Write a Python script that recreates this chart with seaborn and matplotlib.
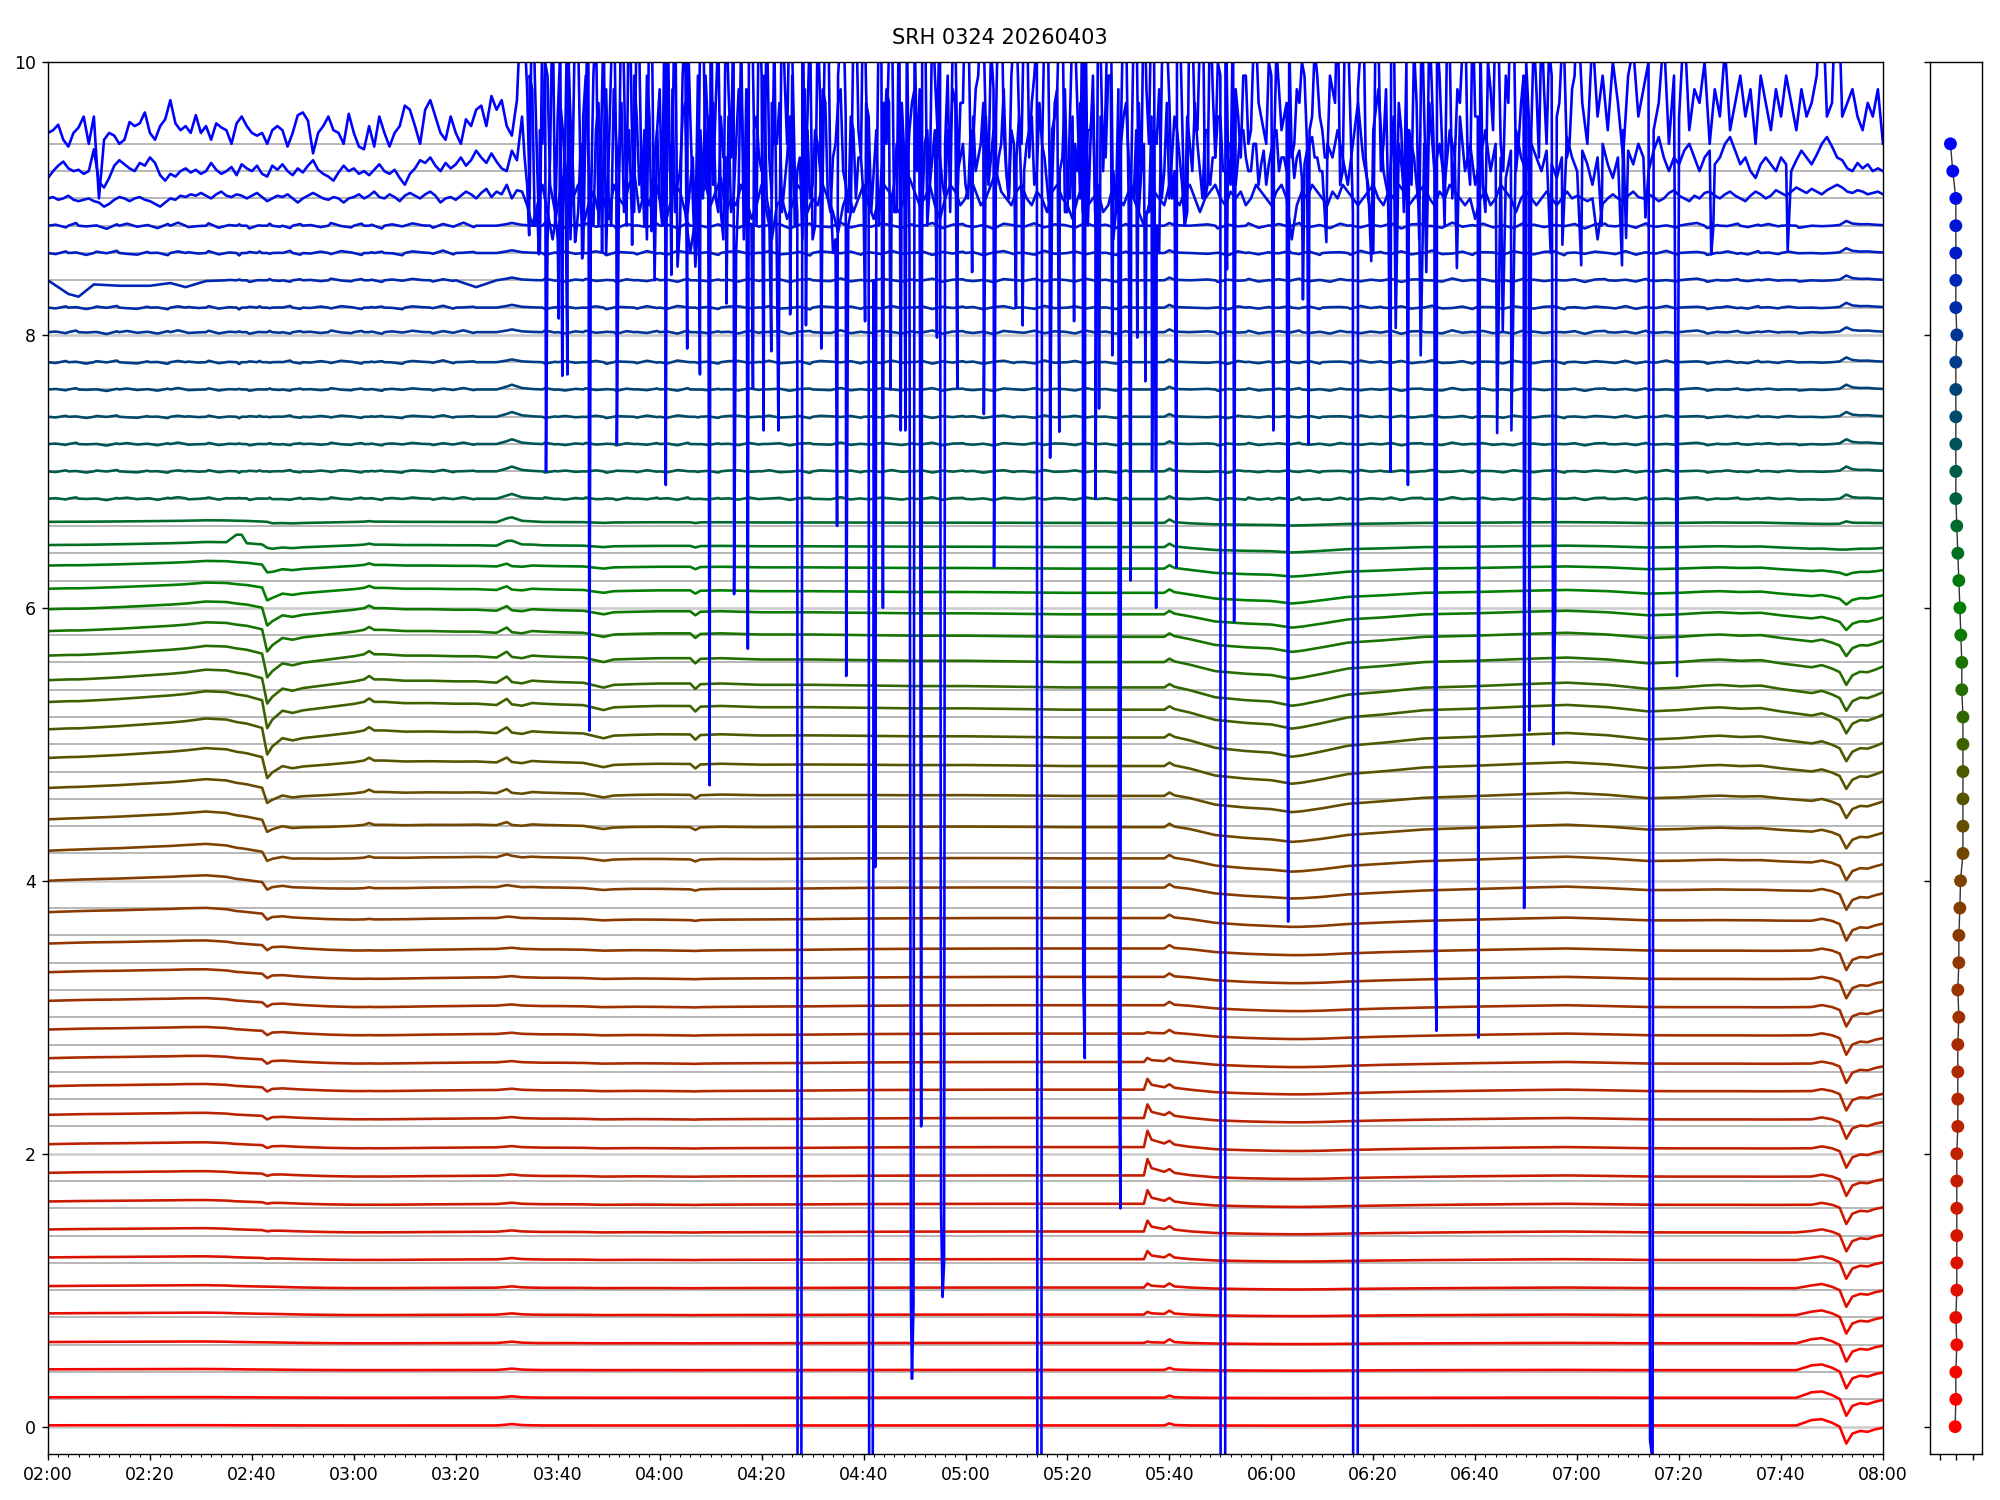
import numpy as np
import pandas as pd
import matplotlib
matplotlib.use('Agg')
import matplotlib.pyplot as plt
import matplotlib.dates as mdates
from matplotlib.colors import LinearSegmentedColormap
import seaborn as sns

title = 'SRH 0324 20260403'
start = pd.Timestamp('2026-04-03 02:00')
n_ch = 48

# knot times (minutes after 02:00) used by the quiet channels 0..44
knots = [0, 4, 6, 9, 14, 20, 24, 27, 31, 35,
         37, 38, 39, 41, 42, 43, 44, 46, 48, 50,
         55, 60, 62, 63, 64, 66, 70, 75, 80, 84,
         88, 90, 91, 93, 95, 97, 100, 105, 109, 111,
         115, 120, 126, 127, 128, 132, 140, 150, 160, 170,
         180, 190, 200, 206, 212, 215, 215.7, 216.5, 219, 220,
         221, 224, 229, 235, 240, 244, 246, 250, 255, 262,
         270, 280, 290, 298, 306, 314, 320, 325, 328, 332,
         336, 340, 343, 346, 348, 350, 351.5, 352.8, 354, 355.5,
         357, 358.5, 360]

# slow drift of the red channels
slow_red = [0, .004, .006, .008, .01, .014, .016, .019, .02, .012,
            .002, 0, -.003, -.008, -.01, -.012, -.014, -.02, -.026, -.031,
            -.04, -.045, -.045, -.044, -.045, -.045, -.043, -.04, -.038, -.036,
            -.035, -.035, -.036, -.037, -.037, -.038, -.038, -.04, -.046, -.045,
            -.043, -.044, -.047, -.048, -.046, -.044, -.042, -.04, -.036, -.034,
            -.033, -.032, -.032, -.032, -.032, -.032, -.032, -.032, -.032, -.032,
            -.033, -.036, -.055, -.066, -.072, -.075, -.075, -.072, -.064, -.056,
            -.049, -.042, -.036, -.032, -.038, -.045, -.046, -.046, -.046, -.046,
            -.047, -.047, -.046, -.045, -.045, -.045, -.046, -.048, -.05, -.05,
            -.05, -.05, -.05]

# slow drift of the olive / green channels
slow_olive = [0, .005, .005, .01, .02, .035, .045, .055, .075, .07,
              .055, .05, .045, .025, .015, 0, -.07, -.06, -.075, -.055,
              -.03, -.005, .01, .035, .01, .01, 0, 0, -.005, -.005,
              -.015, .03, -.01, -.02, 0, -.005, -.01, -.015, -.05, -.03,
              -.025, -.02, -.02, -.06, -.025, -.02, -.03, -.03, -.035, -.04,
              -.04, -.045, -.05, -.05, -.05, -.05, -.05, -.05, -.05, -.05,
              -.05, -.07, -.12, -.14, -.15, -.18, -.17, -.14, -.1, -.08,
              -.05, -.04, -.025, -.015, -.03, -.06, -.05, -.035, -.03, -.04,
              -.035, -.06, -.075, -.09, -.085, -.1, -.11, -.11, -.1, -.09,
              -.09, -.085, -.07]

# short events (knot: value), zero elsewhere
dip_0243 = {42: 0, 43: -1, 44: -0.3, 46: 0}
bump_0330 = {88: 0, 90: 0.6, 91: 1, 93: 0.3, 95: 0.1}
bump_0536 = {215: 0, 215.7: 1, 216.5: 0.45, 219: 0.22, 220: 0.18, 221: 0.12, 224: 0.04}
bump_0540 = {219: 0, 220: 1, 221: 0.2}
dip_0753 = {346: 0, 348: 0.1, 350: 0, 351.5: -0.15, 352.8: -1, 354: -0.45,
            355.5: -0.3, 357: -0.33, 358.5: -0.2, 360: -0.12}
bump_0746 = {343: 0, 346: 1, 348: 0.8, 350: 0.5, 351.5: 0.3, 352.8: 0.2, 354: 0.1, 355.5: 0.05}
extra_ch42 = {4: -0.1, 6: -0.12, 9: -0.03, 14: -0.04, 20: -0.04, 24: -0.02,
              27: -0.05, 31: -0.005, 84: -0.05}
extra_ch32 = {37: 0.06, 38: 0.06}

# level of channels 0..44 at 02:00
level = [0.01, 0.215, 0.42, 0.62, 0.83, 1.03, 1.24, 1.445, 1.65, 1.86,
         2.07, 2.285, 2.495, 2.70, 2.91, 3.12, 3.33, 3.54, 3.77, 4.00,
         4.22, 4.45, 4.68, 4.90, 5.11, 5.31, 5.47, 5.65, 5.83, 5.99,
         6.14, 6.31, 6.46, 6.63, 6.80, 7.00, 7.20, 7.40, 7.60, 7.80,
         8.02, 8.20, 8.40, 8.60, 8.80]

amp_red = [0.03, 0.07, 0.13, 0.2, 0.27, 0.33, 0.4, 0.47, 0.53, 0.6,
           0.67, 0.73, 0.8, 0.87, 0.93, 1.0, 1.07, 1.13, 1.2, 1.25,
           1.2, 1.0, 0.8, 0.6, 0.4, 0.2, 0.1, 0, 0, 0,
           0, 0, 0, 0, 0, 0, 0, 0, 0, 0,
           0, 0, 0, 0, 0]
amp_olive = [0, 0, 0, 0, 0, 0, 0, 0, 0, 0,
             0, 0, 0, 0, 0, 0, 0, 0, 0.1, 0.2,
             0.35, 0.5, 0.65, 0.8, 0.95, 1.0, 1.0, 0.95, 0.85, 0.75,
             0.6, 0.45, 0.3, 0.15, 0.05, 0, 0, 0, 0, 0,
             0, 0, 0, 0, 0]
amp_0243 = [0, 0, 0, 0, 0, 0, .005, .008, .01, .015,
            .02, .025, .03, .03, .03, .03, .03, .035, .04, .05,
            .06, .08, .1, .14, .18, .19, .17, .16, .15, .12,
            .085, .05, .02, 0, 0, 0, 0, 0, 0, 0,
            0, 0, 0, 0, 0]
amp_0330 = [.01] * 21 + [0] * 11 + [.035] * 7 + [.02] * 6
amp_0536 = [0, 0, 0, .01, .02, .03, .06, .08, .1, .12,
            .12, .1, .08, .03, .01] + [0] * 30
amp_0540 = [.015] * 3 + [.025] * 31 + [.02] * 11
amp_0753 = [.14] * 19 + [.13, .12] + [.11] * 7 + [.09, .07, .05, .02, 0, -.02] + [-.035] * 11
amp_0746 = [.04, .04, .035, .03, .025, .02, .015, .01] + [0] * 37

# small ripple of the blue channels 34..44, one value every 2 minutes from 02:01:30
wig_a = [0.3, -0.5, 0.8, -0.2, 0.1, -0.9, 0.4, 0.6, -0.3, 0.2,
         -0.7, 0.5, 0.9, -0.4, -0.1, 0.7, -0.6, 0.2, 0.4, -0.8,
         0.1, 0.6, -0.3, -0.7, 0.5, 0.2, -0.4, 0.8, -0.1, -0.5,
         0.6, 0.3, -0.8, 0.4, -0.2, 0.7, 0.1, -0.6, 0.5, -0.3,
         0.9, -0.4, 0.2, -0.7, 0.6, 0.3, -0.5, 0.1, 0.8, -0.2,
         -0.6, 0.4, 0.7, -0.3, 0.2, -0.8, 0.5, 0.1, -0.4, 0.6,
         0.3, -0.7, 0.8, -0.1, -0.5, 0.4, 0.2, -0.6, 0.7, -0.3,
         0.1, 0.5, -0.8, 0.3, 0.6, -0.2, -0.4, 0.9, -0.5, 0.2,
         -0.3, 0.7, 0.1, -0.6, 0.4, -0.1, 0.8, -0.7, 0.3, 0.5,
         -0.4, 0.2, -0.9, 0.6, 0.1, -0.3, 0.7, -0.5, 0.4, 0.2,
         -0.6, 0.8, -0.2, 0.3, -0.7, 0.5, 0.1, -0.4, 0.6, -0.1,
         0.9, -0.5, 0.2, 0.4, -0.8, 0.3, -0.2, 0.7, -0.6, 0.1,
         0.5, -0.3, 0.8, -0.4, 0.2, -0.7, 0.6, 0.1, -0.5, 0.3,
         -0.2, 0.7, -0.8, 0.4, 0.5, -0.1, -0.6, 0.9, -0.3, 0.2,
         0.6, -0.5, 0.1, -0.7, 0.8, 0.3, -0.4, 0.2, -0.1, 0.5,
         -0.8, 0.4, 0.6, -0.2, 0.3, -0.6, 0.7, -0.3, 0.1, -0.5,
         0.4, 0.8, -0.7, 0.2, -0.1, 0.6, -0.4, 0.3, 0.5, -0.2,
         0.1, -0.6, 0.7, -0.3, 0.4, 0.2, -0.8, 0.5, -0.1, 0.3]
wig_b = [-0.4, 0.6, 0.2, -0.7, 0.5, -0.1, 0.8, -0.3, -0.6, 0.4,
         0.1, -0.8, 0.6, 0.3, -0.2, 0.7, -0.5, 0.2, -0.9, 0.4,
         0.6, -0.3, 0.1, 0.8, -0.6, -0.2, 0.5, -0.4, 0.7, 0.2,
         -0.7, 0.3, 0.5, -0.1, -0.8, 0.6, 0.2, -0.3, 0.9, -0.5,
         0.1, 0.4, -0.6, 0.7, -0.2, -0.4, 0.8, 0.3, -0.7, 0.2,
         0.5, -0.3, -0.1, 0.6, -0.8, 0.4, 0.2, -0.5, 0.7, -0.2,
         -0.6, 0.8, 0.1, -0.4, 0.3, -0.7, 0.5, 0.6, -0.3, 0.1,
         0.7, -0.5, -0.2, 0.4, -0.9, 0.6, 0.3, -0.1, 0.5, -0.6,
         0.2, -0.4, 0.8, -0.3, 0.1, 0.6, -0.7, 0.4, -0.2, 0.5,
         0.3, -0.8, 0.2, 0.7, -0.4, 0.1, -0.6, 0.8, -0.3, -0.1,
         0.6, -0.5, 0.3, 0.1, -0.7, 0.5, -0.2, 0.8, -0.4, 0.2,
         -0.6, 0.4, 0.7, -0.3, 0.1, -0.8, 0.6, 0.2, -0.5, 0.3,
         -0.1, 0.7, -0.4, 0.5, -0.7, 0.2, 0.3, -0.6, 0.8, -0.2,
         0.4, -0.3, 0.6, -0.5, 0.1, 0.9, -0.4, -0.2, 0.5, -0.7,
         0.3, 0.2, -0.6, 0.7, -0.1, -0.5, 0.4, 0.6, -0.8, 0.2,
         -0.3, 0.5, 0.1, -0.4, 0.7, -0.6, 0.3, -0.2, 0.8, -0.5,
         0.2, 0.4, -0.7, 0.1, 0.6, -0.3, -0.5, 0.7, 0.2, -0.4,
         0.5, -0.1, 0.3, -0.6, 0.8, -0.2, 0.4, -0.5, 0.1, 0.2]
amp_wig = [0] * 34 + [.012, .012, .012, .012, .012, .015, .015, .015, .015, .02, .025]

# three noisy top channels, one value per minute from 02:00
ch45 = [9.00, 9.01, 8.99, 9.00, 9.02, 8.99, 8.98, 8.99, 9.00, 8.98, 8.97, 8.94, 8.96, 8.99, 9.01, 9.00, 8.98, 9.00, 9.01, 8.99,
        8.98, 8.96, 8.94, 8.97, 9.00, 8.99, 9.02, 9.01, 9.03, 9.02, 9.04, 9.02, 9.00, 9.03, 9.05, 9.02, 9.01, 9.03, 9.02, 9.00,
        9.02, 9.04, 9.01, 8.98, 9.00, 9.02, 9.01, 9.03, 9.00, 8.97, 9.00, 9.02, 9.04, 9.02, 9.00, 8.99, 9.01, 9.00, 8.97, 9.00,
        9.01, 9.03, 9.00, 9.02, 9.05, 9.01, 9.00, 9.03, 9.01, 8.98, 9.02, 9.04, 9.02, 9.00, 9.03, 9.05, 9.02, 8.97, 9.00, 9.01,
        8.99, 9.02, 9.05, 9.03, 9.00, 9.04, 9.07, 9.01, 9.05, 9.03, 9.10, 9.00, 9.06,
        9.05, 8.95, 8.80, 8.95, 9.10, 8.90, 8.70, 8.95, 9.15, 8.85, 9.00, 9.10, 8.80, 8.95, 9.05, 8.90, 9.00, 8.85, 9.10, 9.00,
        8.95, 9.10, 9.20, 8.90, 9.05, 8.95, 9.15, 9.00, 8.80, 8.95, 9.10, 9.05, 8.90, 8.60, 8.85, 9.00, 9.10, 8.95, 9.05, 9.15,
        8.90, 9.00, 8.95, 9.10, 9.00, 8.85, 8.95, 9.10, 8.90, 8.70, 8.95, 9.00, 8.85, 8.95, 9.10, 9.05, 8.90, 9.00, 8.95, 9.10,
        9.00, 8.90, 8.75, 8.95, 9.05, 8.90, 9.00, 9.10, 8.95, 8.85, 9.00, 9.10, 9.05, 8.95, 8.90, 9.00, 9.15, 9.05, 8.95, 9.00,
        9.10, 8.95, 8.85, 9.00, 9.10, 9.05, 8.95, 9.00, 9.15, 9.05, 8.95, 9.00, 9.10, 9.20, 9.05, 9.00, 8.95, 9.05, 9.10, 9.00,
        8.95, 9.05, 9.00, 8.90, 9.05, 9.10, 9.00, 8.95, 8.85, 9.00, 9.10, 8.95, 9.00, 9.05, 8.90, 8.95, 9.10, 9.00, 8.95, 9.05,
        9.00, 8.90, 8.80, 8.95, 9.05, 9.00, 8.95, 9.10, 9.00, 8.95, 9.05, 9.10, 9.00, 8.90, 9.00, 9.05, 9.10, 9.00, 8.95, 9.05,
        9.00, 9.05, 8.95, 9.00, 9.10, 9.05, 9.00, 8.95, 9.05, 9.10, 9.00, 8.70, 8.95, 9.05, 9.00, 9.10, 9.05, 9.00, 8.95, 9.05,
        9.00, 9.10, 9.05, 9.00, 8.95, 9.00, 9.05, 9.10, 9.00, 8.95, 9.05, 9.00, 9.10, 9.05, 8.95, 9.00, 9.05, 9.10, 9.00, 8.95,
        9.05, 9.00, 9.10, 9.05, 9.00, 8.95, 9.00, 8.85, 9.00, 9.05, 8.95, 9.00, 9.10, 9.05, 9.00, 8.90, 9.00, 9.05, 9.00, 8.95,
        9.00, 9.05, 9.00, 8.95, 9.00, 9.05, 9.00, 9.02, 9.00, 8.98, 9.00, 8.70, 8.96, 9.00, 9.03, 9.00, 8.98, 9.02, 9.05, 9.01,
        9.00, 9.03, 9.01, 8.98, 9.00, 9.04, 9.06, 9.02, 9.00, 8.98, 9.02, 9.00, 9.04, 9.05, 9.02, 9.00, 9.03, 9.05, 9.02, 9.00,
        8.98, 9.02, 9.05, 9.03, 9.00, 9.02, 9.06, 9.04, 9.02, 9.05, 9.08, 9.06, 9.04, 9.07, 9.05, 9.03, 9.06, 9.08, 9.10, 9.08,
        9.05, 9.04, 9.06, 9.05, 9.03, 9.04, 9.05, 9.03]

ch46 = [9.15, 9.20, 9.24, 9.27, 9.22, 9.20, 9.21, 9.18, 9.20, 9.36, 9.12, 9.08, 9.15, 9.24, 9.28, 9.25, 9.22, 9.20, 9.26, 9.24,
        9.30, 9.26, 9.17, 9.13, 9.18, 9.16, 9.20, 9.22, 9.19, 9.21, 9.18, 9.20, 9.26, 9.21, 9.18, 9.20, 9.23, 9.17, 9.25, 9.22,
        9.20, 9.24, 9.18, 9.16, 9.24, 9.21, 9.25, 9.20, 9.17, 9.22, 9.19, 9.24, 9.28, 9.21, 9.18, 9.16, 9.13, 9.19, 9.24, 9.20,
        9.22, 9.18, 9.20, 9.17, 9.21, 9.25, 9.20, 9.18, 9.21, 9.15, 9.10, 9.18, 9.22, 9.28, 9.26, 9.30, 9.24, 9.20, 9.26, 9.22,
        9.25, 9.30, 9.24, 9.28, 9.35, 9.30, 9.26, 9.33, 9.27, 9.22, 9.20, 9.35, 9.28,
        9.60, 9.10, 9.80, 8.90, 9.40, 9.90, 9.00, 8.70, 9.50, 10.10, 9.20, 8.90, 9.60, 9.30, 8.80, 9.70, 9.40, 9.00, 9.80, 9.20,
        8.90, 9.50, 9.90, 9.10, 8.80, 9.60, 9.30, 9.00, 9.80, 9.40, 8.90, 9.20, 9.70, 9.10, 8.70, 9.50, 9.90, 9.20, 9.00, 9.60,
        9.30, 8.90, 9.40, 9.80, 9.10, 8.80, 9.60, 9.20, 9.00, 9.70, 9.40, 8.90, 9.30, 9.90, 9.20, 8.70, 9.50, 9.10, 9.40, 9.80,
        9.00, 9.30, 9.70, 9.20, 8.90, 9.50, 9.30, 9.00, 9.60, 9.20, 8.80, 9.40, 9.70, 9.10, 9.30, 9.00, 9.50, 9.80, 9.20, 9.40,
        9.10, 9.50, 9.30, 9.00, 9.40, 9.70, 9.30, 9.10, 9.50, 9.20, 9.40, 9.60, 9.30, 9.10, 9.40, 9.20, 9.50, 9.30, 9.00, 9.40,
        9.60, 9.20, 9.40, 9.10, 9.50, 9.80, 9.30, 9.00, 9.60, 9.20, 8.90, 9.50, 9.70, 9.10, 9.40, 9.90, 9.20, 8.90, 9.60, 9.30,
        9.00, 9.70, 9.40, 8.90, 9.50, 9.80, 9.20, 9.00, 9.60, 9.30, 8.80, 9.40, 9.70, 9.20, 9.50, 9.10, 9.30, 9.60, 9.20, 9.40,
        9.10, 9.50, 9.30, 9.20, 9.40, 9.25, 9.10, 9.35, 9.50, 9.30, 9.20, 9.40, 9.30, 9.15, 9.35, 9.45, 9.30, 9.20, 9.40, 9.30,
        9.50, 9.30, 9.10, 9.40, 9.70, 9.30, 9.10, 9.50, 9.80, 9.20, 9.00, 9.60, 9.40, 9.10, 9.50, 9.30, 8.90, 9.40, 9.70, 9.20,
        9.40, 9.10, 9.50, 9.30, 9.60, 9.20, 9.40, 9.10, 9.30, 9.50, 9.20, 9.40, 9.30, 9.15, 9.35, 9.50, 9.30, 9.20, 9.40, 9.30,
        9.20, 9.35, 9.25, 9.15, 9.30, 9.45, 9.30, 9.20, 9.35, 9.25, 9.10, 9.30, 9.40, 9.25, 9.15, 9.30, 9.50, 9.35, 9.25, 9.40,
        9.30, 9.20, 9.35, 9.45, 9.30, 9.20, 9.30, 9.25, 9.35, 9.40, 9.30, 9.20, 9.30, 9.35, 9.25, 9.30, 9.40, 9.45, 9.35, 9.25,
        9.30, 9.20, 9.15, 9.25, 9.30, 9.25, 9.20, 9.30, 9.25, 9.20, 9.28, 9.35, 9.30, 9.25, 9.32, 9.40, 9.45, 9.38, 9.30, 9.28,
        9.22, 9.20, 9.26, 9.22, 9.25, 9.20, 9.22, 9.20]

ch47 = [9.48, 9.50, 9.54, 9.43, 9.38, 9.48, 9.52, 9.60, 9.40, 9.60, 9.00, 9.43, 9.48, 9.46, 9.40, 9.43, 9.56, 9.53, 9.55, 9.63,
        9.48, 9.43, 9.53, 9.58, 9.72, 9.55, 9.50, 9.53, 9.48, 9.61, 9.48, 9.53, 9.43, 9.55, 9.52, 9.50, 9.40, 9.55, 9.60, 9.53,
        9.48, 9.46, 9.48, 9.40, 9.50, 9.53, 9.50, 9.38, 9.48, 9.61, 9.63, 9.57, 9.33, 9.48, 9.53, 9.60, 9.50, 9.48, 9.40, 9.62,
        9.48, 9.38, 9.36, 9.53, 9.38, 9.60, 9.48, 9.38, 9.48, 9.53, 9.68, 9.65, 9.53, 9.40, 9.65, 9.72, 9.60, 9.48, 9.43, 9.60,
        9.48, 9.40, 9.58, 9.53, 9.65, 9.68, 9.53, 9.75, 9.65, 9.72, 9.53, 9.46, 9.72,
        10.6, 9.8, 10.8, 9.2, 10.4, 8.7, 10.5, 9.6, 8.9, 10.7, 9.4, 10.2, 8.6, 10.5, 9.9, 8.8, 10.3, 9.3, 10.6, 9.0,
        9.9, 10.8, 8.9, 10.1, 9.5, 10.6, 8.4, 9.8, 10.5, 9.2, 10.7, 8.8, 10.3, 9.6, 8.5, 10.4, 9.1, 10.8, 9.7, 8.9,
        10.5, 9.3, 8.6, 10.2, 9.8, 10.7, 8.8, 9.9, 10.4, 9.0, 8.5, 10.6, 9.4, 10.1, 8.9, 10.7, 9.6, 8.7, 10.3, 9.2,
        10.6, 8.6, 9.9, 10.5, 8.8, 10.2, 9.5, 10.8, 9.0, 8.4, 10.4, 9.7, 10.1, 8.9, 10.6, 9.3, 8.7, 10.3, 9.8, 10.7,
        9.1, 9.9, 10.5, 9.4, 8.9, 10.2, 9.7, 10.6, 9.3, 9.8, 10.4, 9.5, 10.1, 9.6, 10.7, 9.2, 9.9, 10.3, 9.4, 10.6,
        9.7, 10.2, 9.3, 10.8, 9.1, 9.8, 10.5, 8.9, 10.3, 9.6, 10.7, 8.8, 9.9, 10.4, 9.2, 10.6, 8.7, 9.8, 10.5, 9.0,
        10.3, 8.9, 10.6, 9.4, 10.1, 8.6, 10.8, 9.7, 9.2, 10.4, 8.8, 10.7, 9.5, 10.2, 9.0, 10.5, 9.3, 9.9, 10.6, 9.1,
        9.8, 9.3, 9.9, 9.5, 10.2, 9.6, 9.4, 9.9, 10.1, 9.5, 9.7, 9.3, 9.8, 10.0, 9.4, 9.6, 9.9, 9.5, 9.3, 9.8,
        10.5, 9.2, 10.3, 8.9, 9.8, 10.6, 9.0, 8.6, 10.2, 9.4, 8.8, 10.4, 9.7, 8.9, 9.5, 10.1, 8.7, 9.6, 10.3, 9.2,
        9.9, 8.8, 10.1, 9.3, 9.7, 10.5, 9.1, 9.6, 10.2, 8.9, 9.8, 10.4, 9.4, 9.9, 10.6, 9.2, 9.7, 10.0, 9.5, 9.8,
        10.3, 9.4, 9.9, 9.6, 10.1, 9.3, 9.8, 10.5, 9.7, 9.4, 10.2, 9.6, 9.9, 9.5, 10.0, 9.7, 9.3, 9.9, 10.1, 9.6,
        9.8, 10.0, 9.5, 9.7, 10.2, 9.4, 9.9, 9.6, 10.3, 9.5, 9.8, 9.7, 10.0, 9.4, 9.8, 9.6, 10.1, 9.5, 9.7, 9.9,
        9.6, 9.8, 9.4, 9.9, 9.7, 9.5, 9.8, 9.6, 9.9, 9.7, 9.5, 9.8, 9.6, 9.7, 9.9, 10.6, 9.6, 9.7, 10.8, 9.6,
        9.7, 9.8, 9.6, 9.5, 9.7, 9.6, 9.8, 9.4]

# half-minute samples of the disturbed part (from 03:33:30)
ch47_half = [10.2, 9.0, 9.9, 8.6, 10.5, 9.3, 8.8, 10.1, 9.5, 8.7, 10.6, 9.1, 9.7, 8.9, 10.3, 9.4, 8.6, 10.0, 9.2, 10.7,
             8.8, 9.6, 10.4, 9.0, 8.7, 10.2, 9.5, 8.9, 10.6, 9.3, 8.5, 9.9, 10.3, 9.0, 8.8, 10.5, 9.6, 9.1, 10.2, 8.7,
             9.8, 10.4, 9.1, 8.7, 10.0, 9.5, 10.6, 8.9, 9.3, 10.2, 8.6, 9.9, 10.5, 9.2, -0.5, 9.0, 10.3, 8.8, 9.7, 10.4,
             9.1, 8.7, 10.2, 9.6, 8.9, 10.5, 9.3, 9.8, -0.5, 8.8, 10.1, 9.4, 10.6, 8.9, 9.7, 10.3, 0.35, 9.2, 10.0, 8.8,
             10.4, 9.5, 0.95, 9.9, 10.2, 9.1, 9.7, 10.5, 9.4, 9.9, 10.3, 9.2, 9.8, 10.6, 9.5, 9.0, 10.2, 9.6, 10.4, 9.3,
             9.9, -0.5, 10.3, 9.2, 9.7, 10.5, 8.9, 9.6, 10.2, 9.0, 10.6, 9.4, 8.8, 10.1, 9.7, 10.4, 8.9, 9.5, 10.3, 9.1,
             10.5, 9.2, 9.8, 10.6, 8.8, 9.9, 10.2, 9.0, 10.4, 9.6, 8.9, 10.3, 9.5, 10.7, 9.1, 9.8, 10.0, -0.5, 9.3, 10.4,
             9.6, 9.9, 9.4, 10.1, 9.7, 9.5, 10.0, 9.3, 9.8, 9.6, 10.2, 9.4, 9.7, 9.9, 9.5, 10.1, 9.6, 9.3, 9.9, 9.7,
             9.1, 10.4, 9.6, -0.5, 10.1, 9.3, 8.9, 10.5, 9.2, 9.8, 10.3, 8.7, 9.5, 10.0, 9.1, 9.7, 10.4, 8.9, 9.8, 10.2,
             9.4, 10.3, 9.0, 9.8, 10.1, 9.3, 10.4, 9.6, 9.1, 10.0, 9.5, 10.3, 9.2, 9.7, 10.5, 9.4, 9.9, 9.6, 10.2, 9.3,
             9.8, 10.1, 5.5, 9.7, 10.0, 9.4, 9.9]
ch46_half = [9.3, 9.9, 8.8, 9.5, 10.0, 9.1, 8.9, 9.7, 9.2, 9.6, 8.7, 9.4, 9.9, 9.0, 9.5, 9.1, 9.8, 8.8, 9.4, 9.7,
             9.2, 8.9, 9.6, 9.3, 9.9, 9.0, 9.5, 8.8, 9.4, 9.8, 9.1, 9.6, 8.9, 9.3, 9.9, 9.0, 9.5, 9.7, 8.9, 9.3,
             9.6, 9.0, 9.8, 9.2, 8.8, 9.5, 9.3, 9.9, 8.9, 9.4, 9.7, 9.1, 9.6, 8.8, 9.3, 9.8, 9.0, 9.5, 9.2, 9.7,
             8.9, 9.4, 9.8, 9.1, 9.6, 9.0, 9.3, 9.7, 8.9, 9.5, 9.2, 9.8, 9.0, 9.4, 9.6, 9.1, 9.7, 9.3, 8.9, 9.5,
             9.3, 9.6, 9.1, 9.5, 9.8, 9.2, 9.4, 9.0, 9.6, 9.3, 9.7, 9.1, 9.5, 9.3, 9.8, 9.0, 9.4, 9.6, 9.2, 9.5,
             9.1, 9.7, 9.3, 8.9, 9.6, 9.2, 9.8, 9.0, 9.4, 9.7, 9.1, 9.5, 8.8, 9.6, 9.3, 9.9, 9.0, 9.4, 9.7, 9.1,
             9.5, 9.2, 8.9, 9.6, 9.4, 9.0, 9.7, 9.3, 9.5, 9.1, 9.6, 9.2, 9.4, 9.0, 9.5, 9.3, 9.6, 9.2, 9.4, 9.1,
             9.3, 9.5, 9.2, 9.4, 9.1, 9.35, 9.25, 9.45, 9.2, 9.3, 9.4, 9.15, 9.35, 9.25, 9.4, 9.3, 9.2]

# sharp excursions of the top channel (minute, value)
spike_t = [97.7, 100.9, 106.2, 111.6, 121.2, 125.4, 129.8, 134.6, 137.3, 140.4,
           143.3, 147.05, 147.8, 151.7, 154.8, 156.6, 161.1, 161.8, 162.3, 163.8,
           167.3, 168.2, 169.3, 169.8, 171.3, 175.2, 175.8, 185.6,
           194.1, 194.9, 196.6, 203.1, 203.4, 205.5, 210.1, 210.4, 212.4, 217.4,
           221.4, 230.05, 230.95, 232.7, 240.4, 243.3, 247.3, 256.05, 256.95, 263.4,
           266.8, 272.1, 272.4, 280.6, 289.6, 290.6, 295.3, 295.7, 314.3, 314.8,
           319.6]
spike_v = [7.0, 7.7, 5.1, 7.2, 6.9, 7.9, 4.7, 6.1, 5.7, 7.3,
           7.3, -0.5, -0.5, 7.9, 6.6, 5.5, -0.5, -0.5, 4.1, 6.0,
           7.3, 7.3, 0.9, 0.9, 2.2, 1.6, 1.2, 6.3,
           -0.5, -0.5, 7.1, 3.3, 2.7, 6.8, 2.8, 1.6, 6.2, 6.0,
           6.3, -0.5, -0.5, 5.9, 7.3, 3.7, 7.2, -0.5, -0.5, 7.0,
           6.9, 3.5, 2.9, 2.85, 3.8, 5.1, 5.0, 6.0, -0.1, -0.25,
           5.5]

# shallower dips of the second channel (minute, value)
dip46_t = [94.4, 96.3, 100.2, 101.9, 103.4, 104.8, 108.7, 114.6, 118.4, 122.3,
           127.9, 133.1, 138.3, 141.9, 145.6, 148.7, 160.3, 165.3, 171.2, 174.4,
           178.4, 181.3, 183.6, 189.9, 191.2, 198.4, 201.3, 206.2, 208.8, 213.7,
           215.3, 216.6, 227.7, 231.3, 246.2, 250.8, 259.6, 264.4, 269.3, 270.4,
           276.4, 284.3, 285.4, 287.1, 294.8, 297.1, 300.8, 304.8, 308.8, 309.6,
           313.4, 326.3, 326.7, 341.3]
dip46_v = [8.73, 8.59, 8.12, 7.71, 8.68, 8.56, 8.61, 8.66, 8.76, 8.44,
           7.71, 8.23, 7.61, 7.88, 8.15, 8.07, 8.1, 7.6, 8.05, 7.98,
           7.61, 8.46, 7.42, 8.2, 8.07, 7.29, 8.1, 7.46, 7.85, 7.98,
           7.66, 7.0, 9.13, 8.48, 8.26, 8.68, 8.54, 8.05, 7.85, 8.46,
           8.49, 7.28, 8.03, 7.3, 8.6, 8.66, 8.51, 8.8, 8.51, 8.71,
           8.86, 8.59, 8.78, 8.62]

# right panel: one point per channel
side_x = [-0.083, -0.04, -0.04, 0.02, -0.04, 0.02, 0.02, 0.02, 0.02, 0.02,
          0.02, 0.083, 0.083, 0.083, 0.083, 0.146, 0.083, 0.146, 0.146, 0.21,
          0.25, 0.40, 0.40, 0.40, 0.40, 0.40, 0.40, 0.33, 0.33, 0.27,
          0.21, 0.146, 0.083, 0.02, -0.04, -0.04, -0.04, -0.04, -0.04, -0.04,
          0.02, -0.04, -0.04, -0.04, -0.04, -0.04, -0.23, -0.375]

# colours: red at the bottom, green in the middle, blue at the top
cmap = LinearSegmentedColormap.from_list(
    'chan', [(0.0, (1, 0, 0)), (0.42, (0.5, 0.25, 0)), (0.64, (0, 0.5, 0)), (1.0, (0, 0, 1))])
colors = {i: cmap(i / (n_ch - 1)) for i in range(n_ch)}


def on_knots(shape):
    arr = np.zeros(len(knots))
    for k, v in shape.items():
        arr[knots.index(k)] = v
    return arr


kn = np.array(knots, dtype=float)
red_a, olive_a = np.array(slow_red), np.array(slow_olive)
ev = [(amp_0243, on_knots(dip_0243)), (amp_0330, on_knots(bump_0330)),
      (amp_0536, on_knots(bump_0536)), (amp_0540, on_knots(bump_0540)),
      (amp_0753, on_knots(dip_0753)), (amp_0746, on_knots(bump_0746))]

# ripple samples sit between the knots, away from the event windows
t_wig = np.arange(1.5, 360, 2.0)
quiet = ~(((t_wig > 85) & (t_wig < 97)) | ((t_wig > 213) & (t_wig < 226)) | (t_wig > 344))

frames = []
for i in range(45):
    y = level[i] + amp_red[i] * red_a + amp_olive[i] * olive_a
    for amp, shape in ev:
        y = y + amp[i] * shape
    if i == 42:
        y = y + on_knots(extra_ch42)
    if i == 32:
        y = y + on_knots(extra_ch32)
    frames.append(pd.DataFrame({'minute': kn, 'value': y, 'ch': i}))
    if amp_wig[i] > 0:
        w = np.array(wig_a if i % 2 == 0 else wig_b)
        keep = quiet.copy()
        if i == 42:
            keep &= ~((t_wig < 34) | ((t_wig > 80) & (t_wig < 97)))
        frames.append(pd.DataFrame({'minute': t_wig[keep],
                                    'value': level[i] + amp_wig[i] * w[keep], 'ch': i}))

extra_pts = {
    46: [(93.5 + np.arange(len(ch46_half)), ch46_half), (dip46_t, dip46_v)],
    47: [(93.5 + np.arange(len(ch47_half)), ch47_half), (spike_t, spike_v)],
}
for i, vals in [(45, ch45), (46, ch46), (47, ch47)]:
    frames.append(pd.DataFrame({'minute': np.arange(len(vals), dtype=float),
                                'value': vals, 'ch': i}))
    for et, evv in extra_pts.get(i, []):
        frames.append(pd.DataFrame({'minute': np.asarray(et, dtype=float),
                                    'value': evv, 'ch': i}))

df = pd.concat(frames, ignore_index=True)
df = df.sort_values(['ch', 'minute'], kind='mergesort')
df['time'] = start + pd.to_timedelta(df['minute'], unit='m')

fig = plt.figure(figsize=(16, 12), dpi=125)
ax = fig.add_axes([0.024, 0.0307, 0.9175, 0.928])
side = fig.add_axes([0.965, 0.0307, 0.026, 0.928])

# horizontal reference line for every channel
for i in range(n_ch):
    if i % 10 == 0:
        ax.axhline(i * 0.2, color='#cccccc', lw=1.5, zorder=1)
    else:
        ax.axhline(i * 0.2, color='#a6a6a6', lw=0.9, zorder=1)

sns.lineplot(data=df, x='time', y='value', hue='ch', palette=colors,
             estimator=None, sort=False, legend=False, linewidth=1.5, ax=ax)

ax.set_xlim(start, start + pd.Timedelta(hours=6))
ax.set_ylim(-0.2, 10)
ax.set_yticks([0, 2, 4, 6, 8, 10])
ax.xaxis.set_major_locator(mdates.MinuteLocator(byminute=[0, 20, 40]))
ax.xaxis.set_minor_locator(mdates.MinuteLocator(byminute=range(0, 60, 2)))
ax.xaxis.set_major_formatter(mdates.DateFormatter('%H:%M'))
ax.set_xlabel('')
ax.set_ylabel('')
fig.suptitle(title, x=0.5, y=0.975, va='center', fontsize=12)

side_y = [i * 0.2 for i in range(n_ch)]
sns.lineplot(x=side_x, y=side_y, sort=False, estimator=None, color='k',
             linewidth=0.8, alpha=0.8, ax=side)
sns.scatterplot(x=side_x, y=side_y, hue=list(range(n_ch)), palette=colors,
                s=55, edgecolor='none', legend=False, zorder=3, ax=side)
side.set_xlim(-1.64, 1.58)
side.set_ylim(-0.2, 10)
side.set_xticks([-1, 0, 1])
side.set_xticklabels([])
side.set_yticks([0, 2, 4, 6, 8, 10])
side.set_yticklabels([])

fig.savefig('out.png', dpi=125)
